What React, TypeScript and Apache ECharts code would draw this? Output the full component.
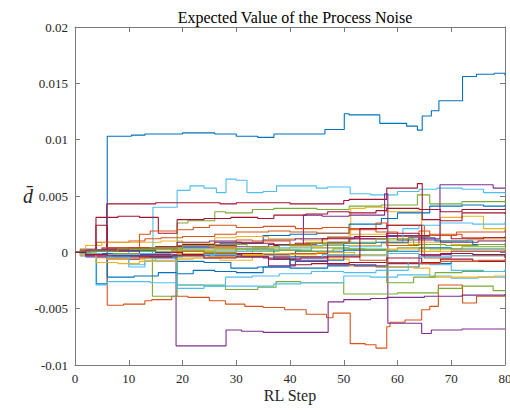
import React, { useEffect, useRef } from "react";
import * as echarts from "echarts";

const title = "Expected Value of the Process Noise";
const xName = "RL Step";
const yName = "d\u0304";
const xTicks = [0, 10, 20, 30, 40, 50, 60, 70, 80];
const yTicks = [-0.01, -0.005, 0, 0.005, 0.01, 0.015, 0.02];

// each run: [step, value] change points (value held until next change)
const runA = [[0,0],[1,-0.0003],[4,-0.0028],[6,0.0103],[10.5,0.0104],[13,0.0105],[20,0.0106],[26,0.0105],[30,0.0103],[34,0.0102],[37,0.0105],[46.5,0.0109],[50.1,0.0123],[51,0.0122],[56.7,0.01145],[61.7,0.0112],[63.7,0.01085],[64.6,0.0121],[66.3,0.01257],[67.7,0.01345],[72.1,0.0156],[74.7,0.0158],[78,0.0159],[80,0.0157]];
const runE = [[0,0],[3,0.0001],[6,-0.0047],[9,-0.0046],[13,-0.0043],[14.3,-0.0042],[18,-0.0039],[21,-0.004],[25,-0.0043],[28,-0.0046],[31.6,-0.0048],[35,-0.0049],[39,-0.0051],[43,-0.0055],[46.8,-0.0058],[48,-0.0054],[51.2,-0.0081],[54,-0.0082],[56,-0.0085],[58,-0.0066],[58.6,-0.0062],[61.4,-0.006],[64.5,-0.0051],[66,-0.0048],[67.6,-0.0029],[72.1,-0.0045],[74.7,-0.0039],[80,-0.0038]];
const runF = [[0,0],[2,-0.0004],[6,-0.0006],[12,-0.0005],[18.8,-0.0083],[28.1,-0.0069],[31,-0.007],[35,-0.0071],[40,-0.0071],[47.1,-0.0044],[50,-0.0042],[55,-0.0041],[58,-0.004],[65,-0.0039],[72,-0.0038],[80,-0.0037]];
const runG = [[0,0],[2,0.0002],[6,0.0004],[12,0.0003],[19,0.0005],[25,0.0006],[30,0.0005],[36,0.0007],[42.5,0.0033],[46,0.0032],[51,0.0033],[57.6,0.0052],[58.2,-0.0063],[64.5,-0.0072],[66.3,-0.0069],[72,-0.0068],[80,-0.0068]];
const runH = [[0,0],[2,0.0002],[6,0.0003],[10,0.0002],[14.4,-0.0039],[19,0.0026],[21,0.0028],[26,0.0036],[28,0.0035],[33,0.0038],[37,0.0039],[45,0.0038],[51,0.0041],[57,0.0042],[63.7,0.0051],[66,0.0043],[72,0.0045],[80,0.0046]];
const runH2 = [[0,0],[2,-0.0001],[6,-0.0002],[12,-0.0003],[19,-0.0029],[28,-0.0033],[34,-0.0031],[37.4,-0.0026],[42,-0.0027],[47,-0.0027],[50,-0.0037],[55,-0.0037],[60,-0.0036],[67.6,-0.0032],[72,-0.003],[77.8,-0.0034],[80,-0.0034]];
const runB = [[0,0],[3,0.0002],[8,0.0003],[14.5,0.004],[19,0.0055],[21.4,0.0059],[24,0.0057],[26.3,0.0053],[28.1,0.0065],[30,0.0064],[32,0.0053],[35,0.0054],[37.5,0.0059],[42,0.0059],[44.9,0.0057],[47,0.0058],[51.2,0.0052],[55,0.0051],[60,0.0054],[64,0.0056],[67.3,0.0057],[72,0.0056],[76,0.0053],[80,0.0052]];
const runI = [[0,0],[1,-0.0003],[3.9,-0.0029],[6,-0.0026],[10,-0.0026],[14,-0.0027],[19,-0.0029],[24,-0.003],[30,-0.003],[37,-0.0028],[42,-0.0027],[48,-0.0027],[50,-0.0021],[55,-0.0022],[60,-0.002],[66,-0.0021],[70,-0.0023],[75,-0.0022],[80,-0.0023]];
const runC = [[0,0],[2,0.0002],[5.9,0.0043],[12,0.0043],[15,0.0044],[20,0.0044],[27,0.0043],[30,0.0044],[35,0.0044],[40,0.0043],[44,0.0043],[50,0.0046],[51,0.0047],[58,0.0057],[63.7,0.0061],[64.6,0.0029],[68,0.0028],[72,0.0035],[80,0.0034]];
const runD = [[0,0],[3.9,0.0031],[8,0.0032],[12,0.0031],[15.5,0.0017],[19,0.0029],[24,0.003],[29,0.0031],[34,0.003],[37,0.0033],[43,0.0034],[47,0.0036],[51,0.0035],[56,0.0037],[58,0.0039],[64,0.0038],[68,0.0036],[72,0.0038],[80,0.0039]];
const runB2 = [[0,0],[1,0.0002],[5,0.0003],[10,0.0004],[19,0.0006],[27,0.0008],[35,0.0015],[40,0.0016],[45,0.0017],[51,0.0025],[57,0.003],[60,0.0035],[66,0.0041],[72,0.0042],[76,0.0041],[80,0.0042]];
const runB3 = [[0,0],[2,-0.0002],[6,-0.0022],[11,-0.0021],[15.5,-0.0018],[19,-0.0019],[22,-0.0016],[26,-0.0017],[30,-0.0018],[35,-0.0013],[40,-0.0014],[47,-0.0012],[51,-0.0011],[56,-0.0013],[64,-0.001],[70,-0.0008],[80,-0.0008]];
const runB4 = [[0,0],[3,0.0001],[8,0.0002],[15,0.0003],[20,0.0004],[30,0.0003],[37,-0.0006],[41,0.0001],[50,0.0002],[58,0.0001],[64,0.0004],[70,0.0003],[80,0.0003]];
const runB5 = [[0,0],[2,-0.0001],[7,-0.0003],[14,-0.0004],[19,-0.0008],[24,-0.0009],[29,-0.0014],[34,-0.0013],[40,-0.0007],[47,-0.0007],[50,0.0008],[56,0.0009],[62,0.0013],[67,0.001],[74,0.0007],[80,0.0006]];
const runO2 = [[0,0],[1,0.0003],[4,0.0009],[10,0.001],[13,0.0012],[16,0.0013],[20,0.0014],[26,0.0016],[30,0.0018],[36,0.0019],[40,0.0018],[45,0.0017],[51,0.0021],[56,0.0018],[60,0.0014],[66,0.0016],[72,0.0013],[80,0.0012]];
const runO3 = [[0,0],[2,0.0002],[8,0.0004],[12,0.0016],[14,0.0019],[19,0.002],[22,0.0022],[25,0.0024],[30,0.0022],[35,0.0023],[41,0.0021],[46,0.0022],[51,0.002],[56,0.0026],[58,0.0024],[65,-0.0005],[70,-0.0003],[80,-0.0004]];
const runO4 = [[0,0],[2,-0.0001],[6,-0.0002],[12,-0.0002],[18,0.0001],[24,-0.0001],[30,-0.0003],[35,-0.0002],[40,-0.0001],[47,-0.0003],[53,-0.0007],[58,-0.0009],[64,-0.001],[68,-0.0008],[75,-0.0007],[80,-0.0006]];
const runO5 = [[0,0],[1,0.0001],[5,0.0004],[15,0.0004],[19,0.0006],[25,0.0005],[30,0.0011],[33,0.001],[40,0.0007],[45,0.0008],[51,0.0012],[58,0.0006],[64,0.0019],[66,0.0015],[71,0.0018],[80,0.002]];
const runY1 = [[0,0],[1,-0.0003],[4,-0.0005],[10,-0.0006],[13,-0.0004],[19,-0.0006],[22,-0.0005],[27,-0.0007],[33,0.0004],[38,0.0006],[43,0.0009],[51.3,0.0039],[54,0.004],[58,0.0036],[64.5,0.0001],[68,0.0031],[72,0.0032],[76,0.0021],[80,0.0023]];
const runY2 = [[0,0],[2,0.0006],[5,0.0009],[12,0.0009],[16,0.001],[20,0.0008],[26,0.0013],[30,0.0014],[36,0.0012],[42,0.0011],[47,0.0014],[51,0.0016],[58,0.0011],[62,0.0007],[68,0.001],[73,0.0011],[80,0.001]];
const runY3 = [[0,0],[1,-0.0002],[6,-0.0006],[10,-0.0005],[15,-0.0004],[19,-0.0001],[24,0.0002],[30,-0.0002],[37,-0.0001],[41,-0.0004],[47,-0.0006],[51,-0.0012],[56,-0.0013],[63,-0.0014],[66,-0.0022],[72,-0.0022],[78,-0.0021],[80,-0.0021]];
const runY4 = [[0,0],[2,0.0001],[5,0.0002],[10,0.0003],[20,0.0002],[26,0.0004],[30,0.0003],[40,0.0005],[46,0.0007],[50,0.0006],[57,0.0008],[62,0.0009],[70,0.0007],[80,0.0008]];
const runY5 = [[0,0],[3.9,-0.0009],[8,-0.001],[12,-0.0008],[19,-0.0005],[25,-0.0004],[30,-0.0003],[35,-0.0001],[40,-0.0002],[45,0],[52,-0.0002],[58,0.0003],[64,0.0001],[70,0.0002],[80,0.0004]];
const runP3 = [[0,0],[2,-0.0003],[6,-0.0004],[12,-0.0003],[19,-0.0002],[25,-0.0004],[30,-0.0003],[35,-0.0005],[40,-0.0004],[47,-0.0011],[52,-0.0012],[58,-0.001],[64,-0.0002],[70,0.0001],[80,0.0002]];
const runP4 = [[0,0],[1,0.0001],[5,0.0003],[10,0.0004],[15,0.0005],[19,0.0009],[25,0.001],[30,0.0009],[35,0.0011],[41,0.0012],[47,0.0013],[53,0.0012],[58,0.0015],[64,0.0011],[68,0.0009],[75,0.001],[80,0.0011]];
const runP5 = [[0,0],[2,0.0002],[6,0.0001],[12,-0.0002],[19,-0.0003],[25,-0.0002],[31,-0.0004],[36,-0.0012],[41,-0.0008],[47,0.0009],[51,0.0012],[58,0.0014],[60,0.0011],[64,0.0012],[67.9,0.006],[77.8,0.0057],[80,0.0057]];
const runG3 = [[0,0],[1,0.0002],[5,0.0002],[10,0.0001],[15,-0.0002],[20,0.0001],[26,0.0003],[30,0.0001],[38,0.0002],[44,0.0004],[51,0.0003],[58,-0.0027],[63,-0.0022],[67,-0.0018],[72,-0.0017],[80,-0.0016]];
const runG4 = [[0,0],[2,-0.0001],[6,-0.0001],[12,0.0001],[18,0.0002],[24,0],[30,0.0003],[36,0.0002],[42,0.0001],[48,0.0003],[54,0.0002],[60,0.0004],[66,0.0003],[72,0.0005],[80,0.0005]];
const runG5 = [[0,0],[3,0.0001],[8,0.0003],[14,0.0004],[20,0.0006],[26,0.0007],[32,0.0005],[38,0.0006],[44,0.0008],[50,0.0009],[56,0.0012],[63,0.0007],[69,0.0006],[75,0.0007],[80,0.0008]];
const runL3 = [[0,0],[2,-0.0001],[6,-0.0004],[10,-0.0013],[13,-0.0007],[19,-0.0032],[24,-0.003],[28,-0.0022],[33,-0.0021],[38,-0.0019],[44,-0.0017],[50,-0.0018],[56,-0.0016],[62,-0.0009],[66,-0.0011],[70,-0.0016],[76,-0.0017],[80,-0.0015]];
const runL4 = [[0,0],[2,0.0002],[5,0.0001],[10,-0.0011],[13,-0.0008],[15,-0.0004],[20,-0.0003],[26,0.0001],[32,0.0002],[38,0.0004],[44,0.0006],[51,0.0005],[57,0.0009],[61,0.0021],[64,0.0024],[68,0.0026],[74,0.0025],[80,0.0027]];
const runL5 = [[0,0],[1,-0.0001],[5,-0.0002],[12,-0.0001],[18,-0.0003],[24,-0.0002],[30,-0.0004],[35,-0.0003],[40,-0.0005],[46,-0.0002],[52,-0.0003],[58,-0.0001],[64,-0.0004],[70,-0.0003],[80,-0.0002]];
const runR3 = [[0,0],[2,0.0001],[3.9,0.0024],[6,0.0001],[10,0.0002],[15,0],[20,-0.0002],[26,-0.0003],[30,-0.0001],[37,-0.0004],[40,-0.0011],[44,-0.001],[51,-0.0009],[58,-0.0005],[64.5,-0.0009],[68,-0.0006],[74,-0.0008],[80,-0.0008]];
const runR4 = [[0,0],[1,0.0001],[5,0.0002],[10,0.0004],[15,0.0005],[20,0.0007],[26,0.0009],[31,0.0008],[37,0.0006],[41,0.0008],[46,0.0012],[52,0.0014],[58,0.0017],[64,0.0015],[70,0.0012],[76,0.0013],[80,0.0014]];
const runR5 = [[0,0],[2,-0.0002],[6,-0.0003],[12,-0.0004],[18,-0.0003],[24,-0.0005],[30,-0.0004],[36,-0.0006],[42,-0.0005],[47,-0.0004],[53,0.0021],[58,0.0024],[64.5,-0.0003],[68,-0.0001],[74,-0.0002],[80,-0.0005]];

const blueRuns = [runA, runB2, runB3, runB4, runB5];
const orangeRuns = [runE, runO2, runO3, runO4, runO5];
const yellowRuns = [runY1, runY2, runY3, runY4, runY5];
const purpleRuns = [runF, runG, runP3, runP4, runP5];
const greenRuns = [runH, runH2, runG3, runG4, runG5];
const lightBlueRuns = [runB, runI, runL3, runL4, runL5];
const darkRedRuns = [runC, runD, runR3, runR4, runR5];

const groups = [
  { color: "#0072BD", runs: blueRuns },
  { color: "#D95319", runs: orangeRuns },
  { color: "#EDB120", runs: yellowRuns },
  { color: "#7E2F8E", runs: purpleRuns },
  { color: "#77AC30", runs: greenRuns },
  { color: "#4DBEEE", runs: lightBlueRuns },
  { color: "#A2142F", runs: darkRedRuns },
];

const serif = "Liberation Serif";
const axisColor = "#7a7a7a";

function fmt(v: number) {
  if (Math.abs(v) < 1e-12) return "0";
  return String(parseFloat(v.toFixed(4)));
}

function mkLine() {
  return { show: true, onZero: false, lineStyle: { color: axisColor, width: 1 } };
}
function mkTick() {
  return { show: true, inside: true, length: 5, lineStyle: { color: axisColor, width: 1 } };
}
function mkLabel(useFmt: boolean) {
  const o: any = {
    show: true,
    fontFamily: serif,
    fontSize: 13,
    color: "#262626",
    margin: 7,
    hideOverlap: false,
    showMinLabel: true,
    showMaxLabel: true,
  };
  if (useFmt) o.formatter = fmt;
  return o;
}

export default function App() {
  const ref = useRef<HTMLDivElement>(null);
  useEffect(() => {
    if (!ref.current) return;
    const chart = echarts.init(ref.current, undefined, { renderer: "svg" });
    const series: any[] = [];
    for (let i = 0; i < 5; i++) {
      groups.forEach((g) => {
        series.push({
          type: "line",
          step: "end",
          data: g.runs[i],
          showSymbol: false,
          symbol: "none",
          lineStyle: { color: g.color, width: 1.1 },
          itemStyle: { color: g.color },
          xAxisIndex: 0,
          yAxisIndex: 0,
          silent: true,
        });
      });
    }
    chart.setOption({
      animation: false,
      backgroundColor: "#ffffff",
      textStyle: { fontFamily: serif },
      title: {
        text: title,
        left: 290,
        textAlign: "center",
        top: 4,
        textStyle: { fontFamily: serif, fontSize: 16, fontWeight: "normal", color: "#000" },
      },
      grid: { left: 75, right: 5, top: 27, bottom: 45, containLabel: false, outerBoundsMode: "none" },
      xAxis: [
        {
          type: "value",
          position: "bottom",
          min: 0,
          max: 80,
          interval: 10,
          name: xName,
          nameLocation: "middle",
          nameGap: 22,
          nameMoveOverlap: false,
          nameTextStyle: { fontFamily: serif, fontSize: 16, color: "#262626" },
          axisLine: mkLine(),
          axisTick: mkTick(),
          splitLine: { show: false },
          axisLabel: mkLabel(false),
        },
        {
          type: "value",
          position: "top",
          min: 0,
          max: 80,
          interval: 10,
          axisLine: mkLine(),
          axisTick: mkTick(),
          splitLine: { show: false },
          axisLabel: { show: false },
        },
      ],
      yAxis: [
        {
          type: "value",
          position: "left",
          min: -0.01,
          max: 0.02,
          interval: 0.005,
          name: yName,
          nameLocation: "middle",
          nameGap: 42,
          nameRotate: 0,
          nameMoveOverlap: false,
          nameTextStyle: { fontFamily: serif, fontSize: 20, fontStyle: "italic", color: "#262626" },
          axisLine: mkLine(),
          axisTick: mkTick(),
          splitLine: { show: false },
          axisLabel: mkLabel(true),
        },
        {
          type: "value",
          position: "right",
          min: -0.01,
          max: 0.02,
          interval: 0.005,
          axisLine: mkLine(),
          axisTick: mkTick(),
          splitLine: { show: false },
          axisLabel: { show: false },
        },
      ],
      series,
    });
    return () => chart.dispose();
  }, []);
  return <div ref={ref} style={{ width: 510, height: 410, position: "fixed", left: 0, top: 0 }} />;
}
